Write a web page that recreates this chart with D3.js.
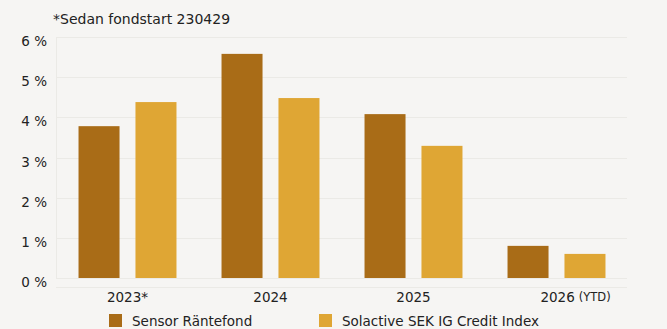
<!DOCTYPE html>
<html>
<head>
<meta charset="utf-8">
<script src="https://cdn.jsdelivr.net/npm/d3@7"></script>
<style>
  html, body { margin: 0; padding: 0; background: #f6f5f3; }
  svg { display: block; font-family: "DejaVu Sans", sans-serif; }
</style>
</head>
<body>
<div id="chart"></div>
<script>
// Data
const years = ['2023*', '2024', '2025', '2026'];
const seriesNames = ['Sensor Räntefond', 'Solactive SEK IG Credit Index'];
const sensorValues = [3.78, 5.58, 4.08, 0.80];
const solactiveValues = [4.38, 4.48, 3.29, 0.60];
const yTicks = [0, 1, 2, 3, 4, 5, 6];

const COLOR_SENSOR = '#a96c17',
    COLOR_SOLACTIVE = '#dfa634',
    COLOR_TEXT = '#222222',
    COLOR_GRID = '#ebeae6';

const width = 667, height = 329;
const margin = { top: 37, right: 40, bottom: 51, left: 56 };

const svg = d3.select('#chart').append('svg')
    .attr('width', width)
    .attr('height', height);

const x0 = d3.scaleBand()
    .domain(years)
    .range([margin.left, width - margin.right + 1])
    .paddingInner(0.315)
    .paddingOuter(0.1575);

const x1 = d3.scaleBand()
    .domain(seriesNames)
    .range([0, x0.bandwidth()])
    .paddingInner(0.28);

const y = d3.scaleLinear()
    .domain([0, 6])
    .range([height - margin.bottom, margin.top]);

const color = d3.scaleOrdinal().domain(seriesNames).range([COLOR_SENSOR, COLOR_SOLACTIVE]);

// Grid
svg.append('g')
    .selectAll('line')
    .data(yTicks)
    .enter()
    .append('line')
    .attr('x1', margin.left)
    .attr('x2', width - margin.right)
    .attr('y1', d => Math.round(y(d)) + 0.5)
    .attr('y2', d => Math.round(y(d)) + 0.5)
    .attr('stroke', COLOR_GRID)
    .attr('stroke-width', 1);

svg.append('line')
    .attr('x1', margin.left + 0.5).attr('x2', margin.left + 0.5)
    .attr('y1', y(6)).attr('y2', y(0))
    .attr('stroke', COLOR_GRID);

// lower axis line
svg.append('line')
    .attr('x1', margin.left).attr('x2', width - margin.right)
    .attr('y1', y(0) + 9.5).attr('y2', y(0) + 9.5)
    .attr('stroke', COLOR_GRID);

// Y labels
svg.append('g')
    .selectAll('text')
    .data(yTicks)
    .enter()
    .append('text')
    .attr('x', 47)
    .attr('y', d => y(d) + 9)
    .attr('text-anchor', 'end')
    .attr('fill', COLOR_TEXT)
    .style('font-size', '13.5px')
    .text(d => d + ' %');

// Bars
const rows = years.map((yr, i) => ({ year: yr, values: [sensorValues[i], solactiveValues[i]] }));

const groups = svg.append('g')
    .selectAll('g')
    .data(rows)
    .enter()
    .append('g')
    .attr('transform', d => 'translate(' + x0(d.year) + ',0)');

groups.selectAll('rect')
    .data(d => d.values.map((v, j) => ({ name: seriesNames[j], value: v })))
    .enter()
    .append('rect')
    .attr('x', d => x1(d.name))
    .attr('width', x1.bandwidth())
    .attr('y', d => y(d.value))
    .attr('height', d => y(0) - y(d.value))
    .attr('fill', d => color(d.name));

// X labels
const xLabels = svg.append('g')
    .selectAll('text')
    .data(years)
    .enter()
    .append('text')
    .attr('x', d => x0(d) + x0.bandwidth() / 2)
    .attr('y', 302)
    .attr('text-anchor', 'middle')
    .attr('fill', COLOR_TEXT)
    .style('font-size', '13.5px');

xLabels.append('tspan').text(d => d);
xLabels.filter(d => d === '2026')
    .attr('x', d => x0(d) + x0.bandwidth() / 2 + 19)
    .append('tspan')
    .attr('dx', 4)
    .attr('dy', -1)
    .style('font-size', '11.5px')
    .text('(YTD)');

// Title
svg.append('text')
    .attr('x', 53)
    .attr('y', 24)
    .attr('fill', COLOR_TEXT)
    .style('font-size', '14px')
    .text('*Sedan fondstart 230429');

// Legend
const legendX = [109, 319];
const legend = svg.append('g')
    .selectAll('g')
    .data(seriesNames)
    .enter()
    .append('g')
    .attr('transform', (d, i) => 'translate(' + legendX[i] + ',314)');

legend.append('rect')
    .attr('width', 13)
    .attr('height', 13)
    .attr('fill', d => color(d));

legend.append('text')
    .attr('x', 23)
    .attr('y', 12)
    .attr('fill', COLOR_TEXT)
    .style('font-size', '13.5px')
    .text(d => d);
</script>
</body>
</html>
